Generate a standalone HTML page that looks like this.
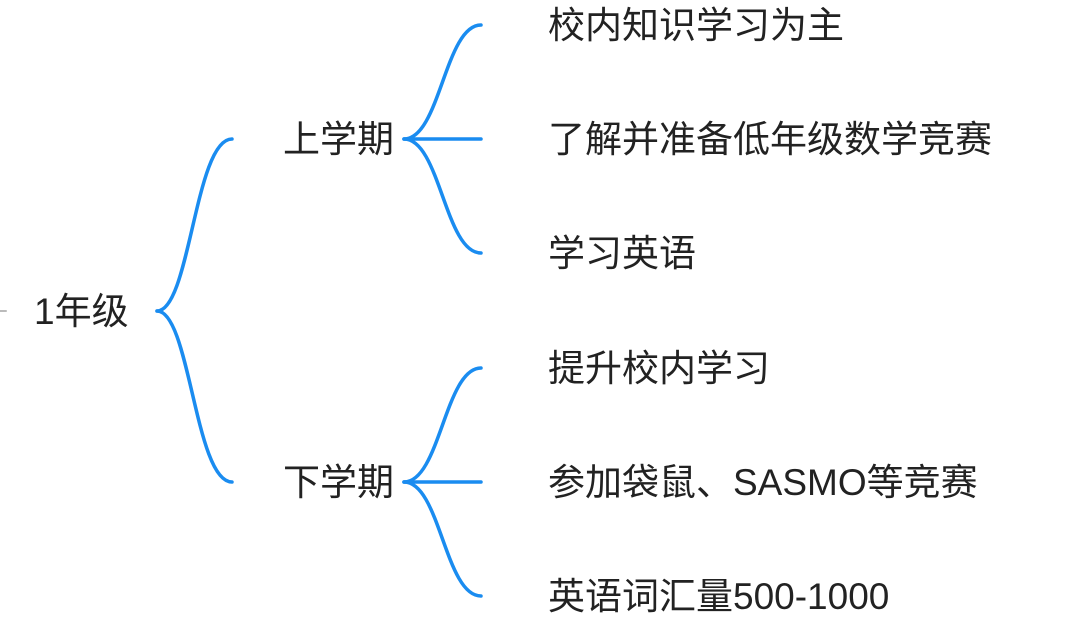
<!DOCTYPE html>
<html><head><meta charset="utf-8"><style>
body{margin:0;background:#fff;width:1080px;height:620px;overflow:hidden;position:relative;font-family:"Liberation Sans","Noto Sans CJK SC",sans-serif;}
.t{position:absolute;font-size:37px;color:#222;line-height:1;white-space:nowrap;}
</style></head><body>
<svg width="1080" height="620" style="position:absolute;left:0;top:0" fill="none" stroke="#1a8cf0" stroke-width="3.5" stroke-linecap="round">
<path d="M0,311 L6,311" stroke="#bbb" stroke-width="2"/>
<path d="M157,311 C190,311 195,139 232,139"/>
<path d="M157,311 C190,311 195,482 232,482"/>
<path d="M404,139 C440,139 445,25 481,25"/>
<path d="M404,139 L481,139"/>
<path d="M404,139 C440,139 445,253 481,253"/>
<path d="M404,482 C440,482 445,368 481,368"/>
<path d="M404,482 L481,482"/>
<path d="M404,482 C440,482 445,596 481,596"/>
</svg>
<div class="t" style="left:34px;top:293px">1年级</div>
<div class="t" style="left:283px;top:121px">上学期</div>
<div class="t" style="left:283px;top:464px">下学期</div>
<div class="t" style="left:548px;top:7px">校内知识学习为主</div>
<div class="t" style="left:548px;top:121px">了解并准备低年级数学竞赛</div>
<div class="t" style="left:548px;top:235px">学习英语</div>
<div class="t" style="left:548px;top:350px">提升校内学习</div>
<div class="t" style="left:548px;top:464px">参加袋鼠、SASMO等竞赛</div>
<div class="t" style="left:548px;top:578px">英语词汇量500-1000</div>
</body></html>
